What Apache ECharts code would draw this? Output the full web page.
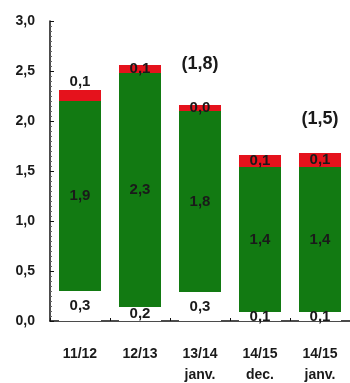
<!DOCTYPE html>
<html><head><meta charset="utf-8">
<script src="https://cdn.jsdelivr.net/npm/echarts@6/dist/echarts.min.js"></script>
<style>html,body{margin:0;padding:0;background:#fff}#c{width:350px;height:383px}</style>
</head><body><div id="c"></div>
<script>
const categories = ['11/12', '12/13', '13/14\njanv.', '14/15\ndec.', '14/15\njanv.'];
const baseValues = [0.30, 0.14, 0.29, 0.09, 0.09];
const greenValues = [1.90, 2.34, 1.81, 1.45, 1.45];
const redValues = [0.11, 0.08, 0.06, 0.12, 0.14];
const baseLabels = ['0,3', '0,2', '0,3', '0,1', '0,1'];
const greenLabels = ['1,9', '2,3', '1,8', '1,4', '1,4'];
const redLabels = ['0,1', '0,1', '0,0', '0,1', '0,1'];
const noteLabels = ['', '', '(1,8)', '', '(1,5)'];
const yTicks = [0, 0.5, 1, 1.5, 2, 2.5, 3];

const font = 'Liberation Sans, Arial, sans-serif';
const lblStyle = {show: true, position: 'inside', color: '#1a1a1a', fontFamily: font, fontWeight: 'bold', fontSize: 15};
const noteGap = [32, 32, 32, 32, 25];

const chart = echarts.init(document.getElementById('c'));
chart.setOption({
  animation: false,
  backgroundColor: '#fff',
  grid: {left: 50, right: 0, top: 21, bottom: 62, outerBoundsMode: 'none', containLabel: false},
  xAxis: {
    type: 'category', data: categories,
    axisLine: {lineStyle: {color: '#111', width: 1.5}},
    axisTick: {show: true, inside: true, length: 3, alignWithLabel: false, lineStyle: {color: '#111'}},
    axisLabel: {color: '#1a1a1a', fontFamily: font, fontWeight: 'bold', fontSize: 14, margin: 23, lineHeight: 21, interval: 0}
  },
  yAxis: {
    type: 'value', min: 0, max: 3, interval: 0.5,
    axisLine: {show: true, lineStyle: {color: '#111', width: 1.5}},
    axisTick: {show: true, inside: true, length: 4, lineStyle: {color: '#111'}},
    minorTick: {show: true, splitNumber: 10, length: 2, lineStyle: {color: '#666'}},
    splitLine: {show: false},
    axisLabel: {color: '#1a1a1a', fontFamily: font, fontWeight: 'bold', fontSize: 14, margin: 15,
      formatter: v => yTicks.indexOf(v) >= 0 ? v.toFixed(1).replace('.', ',') : ''}
  },
  series: [
    {type: 'bar', stack: 's', barWidth: 42, data: baseValues,
     itemStyle: {color: '#ffffff'},
     label: Object.assign({}, lblStyle, {formatter: p => baseLabels[p.dataIndex]})},
    {type: 'bar', stack: 's', data: greenValues,
     itemStyle: {color: '#127a12'},
     label: Object.assign({}, lblStyle, {formatter: p => greenLabels[p.dataIndex]})},
    {type: 'bar', stack: 's', data: redValues.map((v, i) => i === 0 ? {value: v, label: {position: 'top', distance: 1}} : v),
     itemStyle: {color: '#e5121c'},
     label: Object.assign({}, lblStyle, {formatter: p => redLabels[p.dataIndex]})},
    {type: 'bar', stack: 's', data: noteLabels.map((t, i) => ({value: 0, label: {distance: noteGap[i]}})),
     itemStyle: {color: 'transparent'},
     label: {show: true, position: 'top', color: '#1a1a1a', fontFamily: font, fontWeight: 'bold', fontSize: 18,
       formatter: p => noteLabels[p.dataIndex]}}
  ]
});
</script></body></html>
